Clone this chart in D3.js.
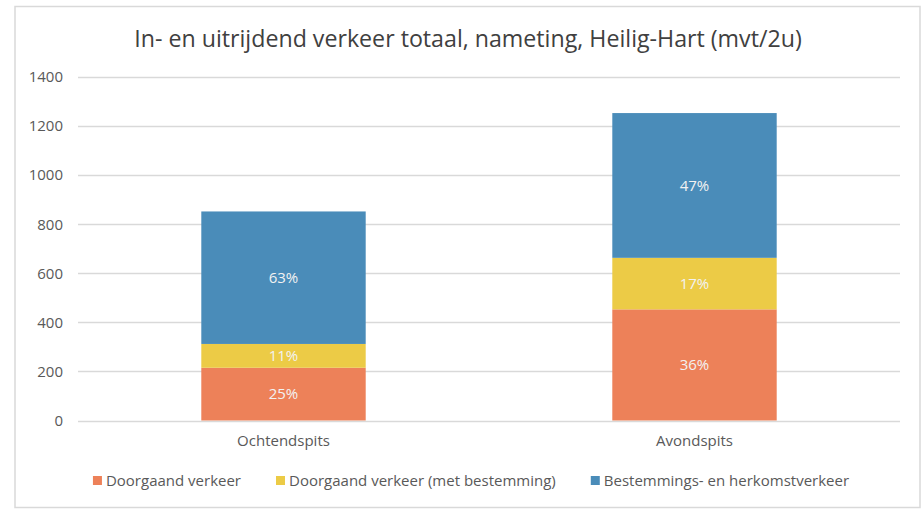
<!DOCTYPE html>
<html>
<head>
<meta charset="utf-8">
<script src="https://cdn.jsdelivr.net/npm/d3@7"></script>
<style>
  html, body { margin: 0; padding: 0; background: #fff; }
  svg { display: block; font-family: "Open Sans", "Noto Sans", sans-serif; }
</style>
</head>
<body>
<svg id="chart" width="922" height="510"></svg>
<script>
const title = "In- en uitrijdend verkeer totaal, nameting, Heilig-Hart (mvt/2u)";
const categories = ["Ochtendspits", "Avondspits"];
const seriesNames = ["Doorgaand verkeer", "Doorgaand verkeer (met bestemming)", "Bestemmings- en herkomstverkeer"];
const doorgaand = [215, 453];
const doorgaandMetBestemming = [97, 210];
const bestemming = [540, 590];
const yTicks = [0, 200, 400, 600, 800, 1000, 1200, 1400];
const colors = ["#ED8159", "#ECCB46", "#4A8CB9"];

const svg = d3.select("#chart");

// chart border
svg.append("rect").attr("x", 15).attr("y", 6.5).attr("width", 905).attr("height", 501)
  .attr("fill", "#fff").attr("stroke", "#D9D9D9").attr("stroke-width", 1.5);

const plot = { left: 78, right: 900, top: 77, bottom: 420.5 };

const x = d3.scaleBand().domain(categories).range([plot.left, plot.right])
  .paddingInner(0.6).paddingOuter(0.3);
const y = d3.scaleLinear().domain([0, 1400]).range([plot.bottom, plot.top]);

// gridlines
svg.append("g").selectAll("line").data(yTicks).join("line")
  .attr("x1", plot.left).attr("x2", plot.right)
  .attr("y1", d => Math.round(y(d)) + 0.5).attr("y2", d => Math.round(y(d)) + 0.5)
  .attr("stroke", "#D9D9D9").attr("stroke-width", 1.3);

// y axis labels
const yAxis = d3.axisLeft(y).tickValues(yTicks).tickSize(0).tickPadding(0).tickFormat(d3.format("d"));
const gy = svg.append("g").attr("transform", `translate(${plot.left - 15},0)`).call(yAxis);
gy.select(".domain").remove();
gy.selectAll("text").attr("fill", "#595959").style("font-size", "15px")
  .style("font-family", '"Open Sans", sans-serif');

// stacked data
const rows = categories.map((c, i) => ({
  cat: c,
  s0: doorgaand[i], s1: doorgaandMetBestemming[i], s2: bestemming[i]
}));
const stack = d3.stack().keys(["s0", "s1", "s2"]);
const stacked = stack(rows);
const pct = d3.format(".0%");

const layers = svg.append("g").selectAll("g").data(stacked).join("g")
  .attr("fill", (d, i) => colors[i]);
layers.selectAll("rect").data(d => d).join("rect")
  .attr("x", d => x(d.data.cat))
  .attr("width", x.bandwidth())
  .attr("y", d => y(d[1]))
  .attr("height", d => y(d[0]) - y(d[1]));

// data labels
stacked.forEach((layer) => {
  svg.append("g").selectAll("text").data(layer).join("text")
    .attr("x", d => x(d.data.cat) + x.bandwidth() / 2)
    .attr("y", d => (y(d[0]) + y(d[1])) / 2)
    .attr("dy", "0.35em")
    .attr("text-anchor", "middle")
    .attr("fill", "#F2F2F2")
    .style("font-size", "15px")
    .text(d => {
      const total = d.data.s0 + d.data.s1 + d.data.s2;
      return pct((d[1] - d[0]) / total);
    });
});

// category labels
svg.append("g").selectAll("text").data(categories).join("text")
  .attr("x", d => x(d) + x.bandwidth() / 2)
  .attr("y", 441)
  .attr("dy", "0.35em")
  .attr("text-anchor", "middle")
  .attr("fill", "#595959")
  .style("font-size", "15px")
  .text(d => d);

// title
svg.append("text").attr("x", 468).attr("y", 47)
  .attr("text-anchor", "middle").attr("fill", "#404040")
  .style("font-size", "23.2px")
  .text(title);

// legend
const legend = svg.append("g");
const items = legend.selectAll("g").data(seriesNames).join("g");
items.append("rect").attr("width", 9).attr("height", 9).attr("y", -4.5)
  .attr("fill", (d, i) => colors[i]);
items.append("text").attr("x", 13).attr("dy", "0.35em")
  .attr("fill", "#595959").style("font-size", "15px").text(d => d);
let widths = [];
items.each(function () { widths.push(this.getBBox().width); });
const gap = 35;
const total = d3.sum(widths) + gap * (widths.length - 1);
let cx = 471 - total / 2;
items.attr("transform", (d, i) => {
  const t = `translate(${cx},480.5)`;
  cx += widths[i] + gap;
  return t;
});
</script>
</body>
</html>
